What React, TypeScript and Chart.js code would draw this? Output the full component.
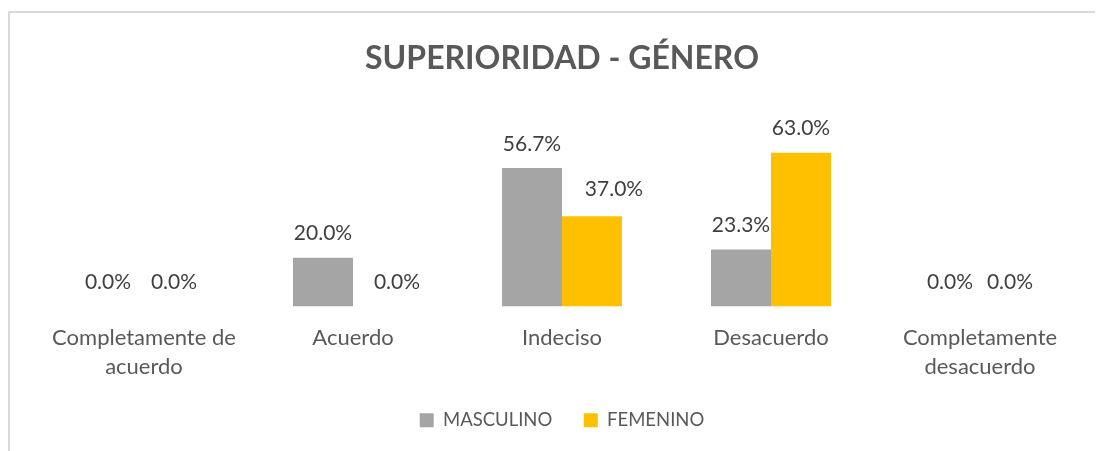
import React, { useEffect, useRef } from "react";
import { Chart, registerables } from "chart.js";

Chart.register(...registerables);

const categories: string[][] = [
  ["Completamente de", "acuerdo"],
  ["Acuerdo"],
  ["Indeciso"],
  ["Desacuerdo"],
  ["Completamente", "desacuerdo"],
];
const masculino: number[] = [0.0, 20.0, 56.7, 23.3, 0.0];
const femenino: number[] = [0.0, 0.0, 37.0, 63.0, 0.0];
const seriesNames: string[] = ["MASCULINO", "FEMENINO"];
const titleText = "SUPERIORIDAD - GÉNERO";

// small horizontal nudges of individual data labels (as placed in the original)
const labelNudgeMasculino: number[] = [-6, 0, 0, 0, 0];
const labelNudgeFemenino: number[] = [0, 14, 22, 0, 0];
const labelNudges: number[][] = [labelNudgeMasculino, labelNudgeFemenino];

const FONT = "Lato, 'Open Sans', sans-serif";

const dataLabelPlugin = {
  id: "dataLabelPlugin",
  afterDatasetsDraw(chart: any) {
    const ctx = chart.ctx;
    ctx.save();
    ctx.font = `21px ${FONT}`;
    ctx.fillStyle = "#404040";
    ctx.textAlign = "center";
    ctx.textBaseline = "middle";
    chart.data.datasets.forEach((ds: any, i: number) => {
      const meta = chart.getDatasetMeta(i);
      meta.data.forEach((el: any, j: number) => {
        const v = ds.data[j] as number;
        const dx = labelNudges[i][j] || 0;
        const dy = dx > 15 ? 3 : 0;
        ctx.fillText(v.toFixed(1) + "%", el.x + dx, el.y - 24 - dy);
      });
    });
    ctx.restore();
  },
};

export default function App() {
  const ref = useRef<HTMLCanvasElement>(null);
  useEffect(() => {
    if (!ref.current) return;
    const chart = new Chart(ref.current, {
      type: "bar",
      data: {
        labels: categories,
        datasets: [
          {
            label: seriesNames[0],
            data: masculino,
            backgroundColor: "#A5A5A5",
            categoryPercentage: 0.574,
            barPercentage: 1,
          },
          {
            label: seriesNames[1],
            data: femenino,
            backgroundColor: "#FFC000",
            categoryPercentage: 0.574,
            barPercentage: 1,
          },
        ],
      },
      options: {
        animation: false,
        responsive: false,
        maintainAspectRatio: false,
        layout: { padding: { left: 31.5, right: 18.5, top: 31.8, bottom: 11.5 } },
        plugins: {
          title: {
            display: true,
            text: titleText,
            color: "#595959",
            font: { family: FONT, size: 32, weight: "bold" },
            padding: { top: 0, bottom: 57.4 },
          },
          legend: {
            position: "bottom",
            labels: {
              color: "#595959",
              font: { family: FONT, size: 18.5 },
              boxWidth: 14,
              boxHeight: 14,
              padding: 31.5,
            },
          },
          tooltip: { enabled: false },
        },
        scales: {
          x: {
            grid: { display: false, drawTicks: false },
            border: { display: false },
            ticks: {
              color: "#595959",
              font: { family: FONT, size: 22, lineHeight: 1.32 },
              padding: 16.5,
              maxRotation: 0,
              autoSkip: false,
            },
            afterFit: (scale: any) => {
              scale.height = 73;
            },
          },
          y: {
            display: false,
            min: 0,
            max: 70,
          },
        },
      },
      plugins: [dataLabelPlugin],
    });
    return () => chart.destroy();
  }, []);

  return (
    <div style={{ position: "relative", width: 1095, height: 443, overflow: "hidden" }}>
      <div
        style={{
          position: "absolute",
          left: 0,
          top: 3,
          width: 1200,
          height: 600,
          border: "2px solid #d9d9d9",
          boxSizing: "border-box",
        }}
      />
      <canvas
        ref={ref}
        width={1095}
        height={443}
        style={{ position: "absolute", left: 0, top: 0, width: 1095, height: 443 }}
      />
    </div>
  );
}
